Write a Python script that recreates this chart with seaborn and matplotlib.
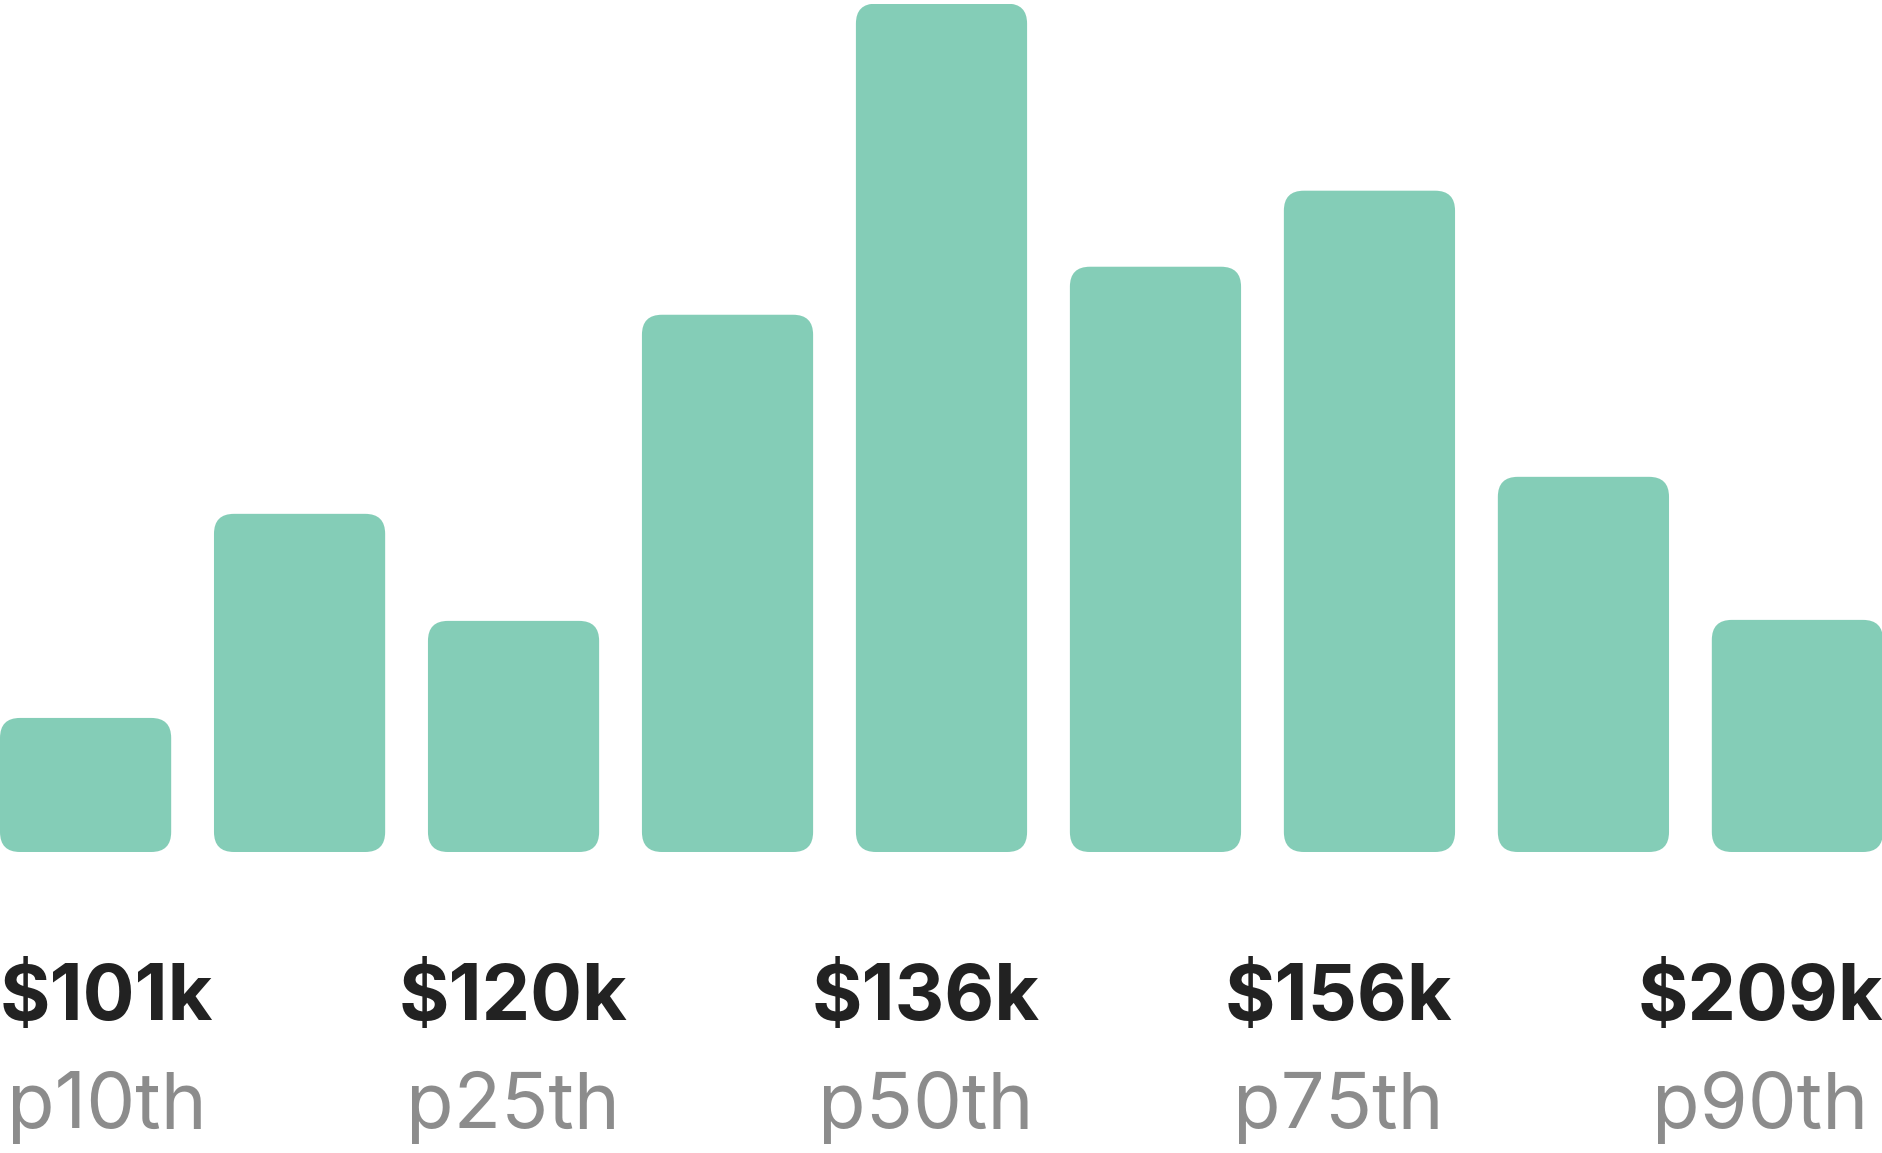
import matplotlib
matplotlib.use("Agg")
import matplotlib.pyplot as plt
from matplotlib.patches import FancyBboxPatch
import seaborn as sns
import pandas as pd

# salary histogram: count per bin
bins = ["b1", "b2", "b3", "b4", "b5", "b6", "b7", "b8", "b9"]
counts = [134, 338, 231, 537, 848, 585, 661, 375, 232]

# percentile markers shown under the bars
pct_values = ["$101k", "$120k", "$136k", "$156k", "$209k"]
pct_names = ["p10th", "p25th", "p50th", "p75th", "p90th"]

sns.set_theme(style="white")
plt.rcParams["font.family"] = ["Inter", "DejaVu Sans"]

W, H, DPI = 1883, 1153, 100
fig = plt.figure(figsize=(W / DPI, H / DPI), dpi=DPI)
fig.patch.set_facecolor("white")

bottom_px, top_px = 852, 3.6
ax = fig.add_axes([0, 1 - bottom_px / H, 1, (bottom_px - top_px) / H])
df = pd.DataFrame({"bin": bins, "count": counts})
sns.barplot(data=df, x="bin", y="count", color="#84cdb7", width=0.8,
            saturation=1, ax=ax)
ax.set_xlim(-0.4, len(bins) - 0.6)
ax.set_ylim(0, max(counts))
ax.set_axis_off()

# swap plain rectangles for rounded ones
px_x = (ax.get_xlim()[1] - ax.get_xlim()[0]) / W
px_y = max(counts) / (bottom_px - top_px)
radius = 20
for p in list(ax.patches):
    fb = FancyBboxPatch((p.get_x(), p.get_y()), p.get_width(), p.get_height(),
                        boxstyle=f"round,pad=0,rounding_size={radius * px_x}",
                        mutation_aspect=px_y / px_x,
                        fc=p.get_facecolor(), ec="none")
    p.remove()
    ax.add_patch(fb)

# labels: spread like justify-between, each pair centred in its block
val_txt = [fig.text(0, 1 - 1020 / H, v, fontsize=55.5, fontweight="bold",
                    color="#222222", ha="center", va="baseline") for v in pct_values]
name_txt = [fig.text(0, 1 - 1128 / H, n, fontsize=56, color="#8c8c8c",
                     ha="center", va="baseline") for n in pct_names]
fig.canvas.draw()
r = fig.canvas.get_renderer()
widths = [max(a.get_window_extent(r).width, b.get_window_extent(r).width)
          for a, b in zip(val_txt, name_txt)]
gap = (W - sum(widths)) / (len(widths) - 1)
x = 0
for a, b, w in zip(val_txt, name_txt, widths):
    a.set_x((x + w / 2) / W)
    b.set_x((x + w / 2) / W)
    x += w + gap

fig.savefig("out.png", dpi=DPI, facecolor="white")
